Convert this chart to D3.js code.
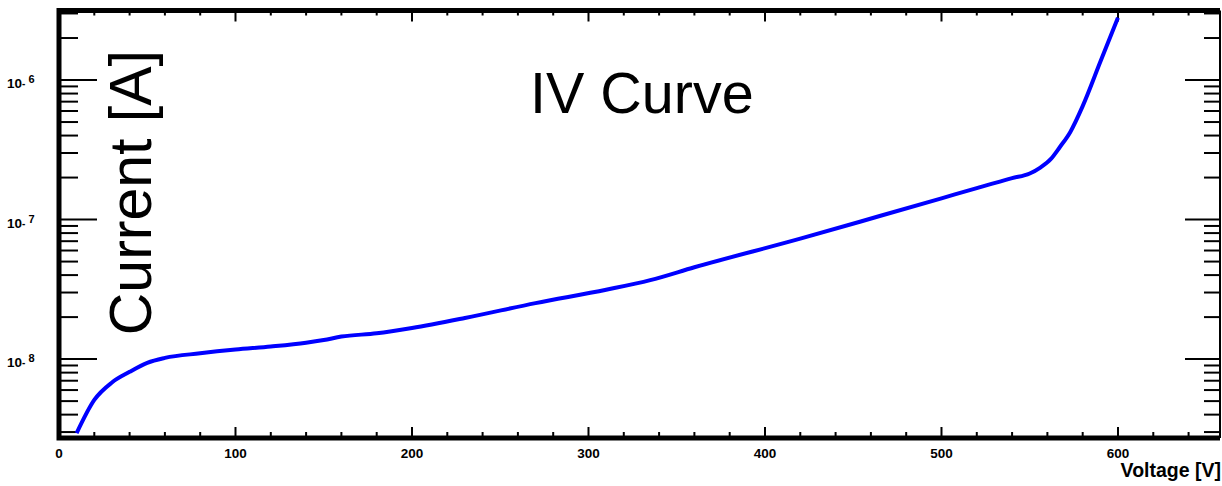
<!DOCTYPE html>
<html lang="en">
<head>
  <meta charset="UTF-8">
  <title>IV Curve</title>
  <style>
    body { margin: 0; background: #fff; }
    text { font-family: "Liberation Sans", Arial, Helvetica, sans-serif; }
  </style>
  <script src="https://cdn.jsdelivr.net/npm/d3@7"></script>
</head>
<body>
<div id="chart"></div>
<script>
  // Measured points (bias voltage in V, leakage current in A)
  var voltage = [10, 20, 30, 40, 50, 60, 80, 100, 120, 140, 150, 160, 180, 200,
                 230, 270, 310, 335, 360, 420, 465, 500, 520, 540, 550, 556, 562,
                 567, 573, 580, 590, 600];
  var current = [2.95e-9, 5.1e-9, 6.8e-9, 8.1e-9, 9.4e-9, 1.02e-8, 1.10e-8, 1.17e-8,
                 1.23e-8, 1.31e-8, 1.37e-8, 1.45e-8, 1.53e-8, 1.67e-8, 1.97e-8, 2.52e-8,
                 3.14e-8, 3.68e-8, 4.55e-8, 7.3e-8, 1.06e-7, 1.42e-7, 1.68e-7, 1.98e-7,
                 2.14e-7, 2.36e-7, 2.72e-7, 3.3e-7, 4.25e-7, 6.5e-7, 1.35e-6, 2.8e-6];
  var xMajorTicks = [0, 100, 200, 300, 400, 500, 600];
  var yMajorTicks = [1e-8, 1e-7, 1e-6];
  var yTickExponents = ["8", "7", "6"];

  var title = "IV Curve";
  var xTitle = "Voltage [V]";
  var yTitle = "Current [A]";

  var width = 1222;
  var height = 486;
  var padL = 59, padR = 1220, padT = 10.5, padB = 438;

  var x = d3.scaleLinear().domain([0, 657.8]).range([padL, padR]);
  var y = d3.scaleLog().domain([2.72e-9, 3.15e-6]).range([padB, padT]);

  var svg = d3.select("#chart")
          .append("svg")
          .attr("width", width)
          .attr("height", height);

  // minor ticks
  var xMinor = d3.range(0, 658, 20).filter(function(v) { return v % 100 !== 0; });
  var yMinor = [];
  [-9, -8, -7, -6].forEach(function(e) {
    for (var k = 2; k <= 9; k++) {
      var v = k * Math.pow(10, e);
      if (v > y.domain()[0] && v < y.domain()[1]) yMinor.push(v);
    }
  });

  var ticks = svg.append("g").attr("stroke", "#000").attr("stroke-width", 2);

  // bottom and top x ticks
  ticks.selectAll(".xmaj").data(xMajorTicks).join("line")
          .attr("x1", function(d) { return x(d); }).attr("x2", function(d) { return x(d); })
          .attr("y1", padB).attr("y2", padB - 11);
  ticks.selectAll(".xmin").data(xMinor).join("line")
          .attr("x1", function(d) { return x(d); }).attr("x2", function(d) { return x(d); })
          .attr("y1", padB).attr("y2", padB - 6);
  ticks.selectAll(".xmajt").data(xMajorTicks).join("line")
          .attr("x1", function(d) { return x(d); }).attr("x2", function(d) { return x(d); })
          .attr("y1", padT).attr("y2", padT + 11);
  ticks.selectAll(".xmint").data(xMinor).join("line")
          .attr("x1", function(d) { return x(d); }).attr("x2", function(d) { return x(d); })
          .attr("y1", padT).attr("y2", padT + 5);

  // left and right y ticks
  ticks.selectAll(".ymaj").data(yMajorTicks).join("line")
          .attr("x1", padL).attr("x2", padL + 38)
          .attr("y1", function(d) { return y(d); }).attr("y2", function(d) { return y(d); });
  ticks.selectAll(".ymin").data(yMinor).join("line")
          .attr("x1", padL).attr("x2", padL + 19)
          .attr("y1", function(d) { return y(d); }).attr("y2", function(d) { return y(d); });
  ticks.selectAll(".ymajr").data(yMajorTicks).join("line")
          .attr("x1", padR).attr("x2", padR - 35)
          .attr("y1", function(d) { return y(d); }).attr("y2", function(d) { return y(d); });
  ticks.selectAll(".yminr").data(yMinor).join("line")
          .attr("x1", padR).attr("x2", padR - 16)
          .attr("y1", function(d) { return y(d); }).attr("y2", function(d) { return y(d); });

  // the curve
  var points = voltage.map(function(v, i) { return {v: v, i: current[i]}; });
  var line = d3.line()
          .x(function(d) { return x(d.v); })
          .y(function(d) { return y(d.i); })
          .curve(d3.curveMonotoneX);
  svg.append("path")
          .datum(points)
          .attr("d", line)
          .attr("fill", "none")
          .attr("stroke", "#0000ff")
          .attr("stroke-width", 4)
          .attr("stroke-linejoin", "round");

  // frame
  svg.append("path")
          .attr("d", "M" + padR + "," + padT + "H" + padL + "V" + padB + "H" + padR)
          .attr("fill", "none")
          .attr("stroke", "#000")
          .attr("stroke-width", 5);
  svg.append("line")
          .attr("x1", padR).attr("x2", padR)
          .attr("y1", padT).attr("y2", padB)
          .attr("stroke", "#000").attr("stroke-width", 2);

  // x tick labels
  svg.selectAll(".xlab").data(xMajorTicks).join("text")
          .attr("x", function(d) { return x(d); })
          .attr("y", 458)
          .attr("text-anchor", "middle")
          .attr("font-size", 13.5)
          .attr("font-weight", "bold")
          .text(function(d) { return d; });

  // y tick labels, 10^-n
  var ylab = svg.selectAll(".ylab").data(yMajorTicks).join("text")
          .attr("x", 7)
          .attr("y", function(d) { return y(d) + 8; })
          .attr("font-size", 13.5)
          .attr("font-weight", "bold");
  ylab.append("tspan").text("10");
  ylab.append("tspan").attr("font-size", 10).attr("dy", -1).text("-");
  ylab.append("tspan").attr("font-size", 11).attr("dx", 3).attr("dy", -4)
          .text(function(d, i) { return yTickExponents[i]; });

  // titles
  svg.append("text")
          .attr("x", 530).attr("y", 113)
          .attr("font-size", 57.5)
          .text(title);
  svg.append("text")
          .attr("x", 1221).attr("y", 477)
          .attr("text-anchor", "end")
          .attr("font-size", 19.5)
          .attr("font-weight", "bold")
          .text(xTitle);
  svg.append("text")
          .attr("transform", "translate(151,50) rotate(-90)")
          .attr("text-anchor", "end")
          .attr("font-size", 59)
          .text(yTitle);
</script>
</body>
</html>
